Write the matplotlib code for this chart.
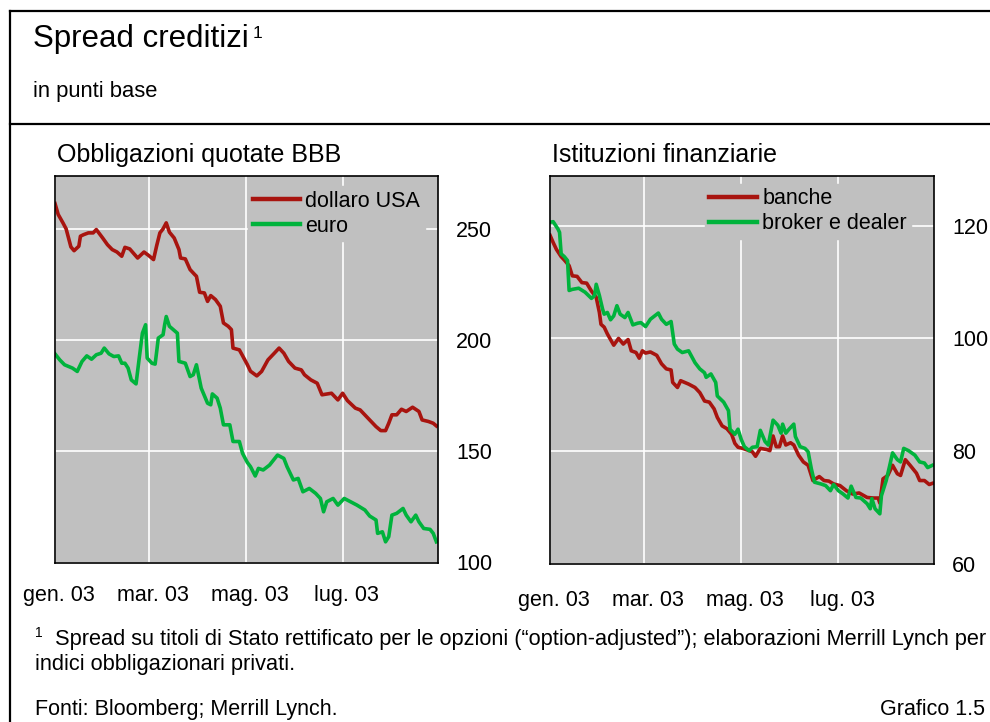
import matplotlib
matplotlib.use('Agg')
import matplotlib.pyplot as plt
from matplotlib.lines import Line2D
from matplotlib.transforms import ScaledTranslation
import numpy as np
import pandas as pd

plt.rcParams['font.family'] = ['Liberation Sans', 'DejaVu Sans']

start = pd.Timestamp('2003-01-01')

# days since 1 Jan 2003 and spread values (basis points)
usd_days = [0, 2, 5, 7, 10, 12, 15, 16, 18, 21, 24, 26, 30, 33, 36, 39, 42, 44, 47, 52,
            56, 59, 62, 64, 66, 68, 70, 72, 75, 78, 79, 82, 85, 88, 89, 91, 94, 96, 98, 101,
            104, 106, 109, 111, 112, 116, 118, 121, 123, 127, 130, 134, 138, 141, 144, 147,
            151, 155, 157, 161, 165, 168, 174, 178, 181, 184, 189, 192, 198, 202, 205, 208,
            210, 212, 215, 218, 221, 225, 229, 231, 235, 238, 240]
usd = [261.4, 256.5, 252.7, 250.0, 241.9, 240.2, 242.2, 246.7, 247.4, 248.2, 248.2, 249.7,
       245.9, 242.9, 240.7, 239.6, 237.7, 241.7, 241.0, 236.9, 239.6, 238.0, 236.2, 242.5,
       248.2, 250.0, 252.7, 248.5, 245.9, 240.7, 236.9, 236.5, 231.7, 229.4, 228.7, 221.5,
       221.2, 217.4, 220.0, 218.2, 215.2, 207.7, 206.2, 204.7, 196.4, 195.6, 193.0, 189.0,
       186.0, 183.9, 185.9, 191.1, 194.1, 196.4, 194.1, 190.4, 187.4, 186.6, 184.4, 182.1,
       180.6, 175.4, 176.1, 173.1, 176.1, 172.8, 169.4, 168.6, 164.1, 161.1, 159.3, 159.3,
       162.6, 166.4, 166.4, 168.9, 167.9, 169.8, 167.9, 164.1, 163.4, 162.6, 161.4]

eur_days = [0, 3, 6, 11, 14, 17, 20, 23, 26, 29, 31, 34, 37, 40, 42, 44, 46, 48, 51, 53,
            55, 57, 58, 61, 63, 64, 65, 68, 69, 70, 72, 77, 78, 82, 85, 87, 89, 92, 96, 98,
            99, 102, 104, 106, 110, 112, 116, 118, 121, 123, 126, 128, 131, 135, 140, 144,
            146, 150, 153, 156, 160, 164, 167, 169, 171, 175, 178, 182, 186, 190, 195, 198,
            202, 203, 206, 208, 210, 212, 215, 219, 221, 224, 227, 229, 232, 236, 238, 240]
eur = [193.8, 191.1, 188.9, 187.4, 185.9, 190.4, 192.9, 191.4, 193.4, 194.1, 196.4, 193.8,
       192.6, 192.9, 189.6, 189.6, 187.4, 182.1, 180.3, 191.9, 203.1, 206.9, 191.9, 189.6,
       189.2, 194.9, 200.9, 202.4, 206.9, 210.6, 206.2, 203.1, 190.4, 189.6, 183.6, 184.4,
       188.9, 178.4, 171.6, 170.9, 175.8, 173.9, 169.4, 161.9, 161.9, 154.4, 154.4, 149.1,
       145.0, 143.1, 138.9, 142.3, 141.6, 143.8, 148.3, 146.8, 143.1, 137.1, 137.8, 131.8,
       133.3, 131.1, 128.8, 122.8, 127.3, 128.8, 125.8, 128.8, 127.3, 125.8, 123.6, 120.9,
       119.1, 113.1, 113.8, 109.3, 111.6, 121.3, 122.1, 124.3, 121.3, 118.3, 121.3, 118.3,
       115.3, 114.9, 113.1, 109.3]

banche_days = [0, 2, 4, 7, 9, 12, 14, 17, 20, 23, 26, 29, 31, 32, 34, 36, 40, 43, 46, 49,
               51, 54, 56, 58, 60, 63, 67, 70, 73, 76, 77, 80, 82, 87, 91, 94, 97, 100, 103,
               105, 108, 111, 114, 116, 118, 121, 124, 127, 129, 132, 136, 138, 140, 142, 144,
               146, 148, 151, 153, 156, 159, 162, 165, 169, 172, 175, 178, 182, 186, 190, 194,
               199, 203, 206, 207, 209, 212, 215, 218, 220, 223, 226, 230, 232, 235, 238, 240]
banche = [118.3, 117.0, 115.8, 114.5, 113.9, 112.9, 111.1, 111.0, 109.9, 109.8, 108.4, 107.3,
          104.6, 102.5, 102.0, 100.8, 98.8, 100.0, 99.0, 99.8, 97.8, 97.5, 96.5, 97.8, 97.4,
          97.6, 97.0, 95.5, 94.6, 94.4, 92.2, 91.3, 92.5, 91.9, 91.3, 90.4, 88.9, 88.7, 87.5,
          86.0, 84.5, 84.0, 83.0, 81.4, 80.7, 80.5, 80.2, 79.9, 79.1, 80.5, 80.3, 80.1, 82.7,
          80.8, 80.8, 82.7, 81.1, 81.5, 81.1, 79.3, 78.1, 77.5, 74.8, 75.5, 74.8, 74.7, 74.2,
          73.9, 73.0, 72.4, 72.6, 71.8, 71.7, 71.7, 70.8, 75.1, 75.7, 77.5, 76.0, 75.7, 78.5,
          77.5, 76.1, 74.8, 74.8, 74.1, 74.3]

broker_days = [0, 2, 5, 6, 7, 9, 11, 12, 14, 18, 22, 26, 28, 29, 31, 33, 34, 36, 38, 40,
               42, 44, 47, 49, 52, 55, 57, 60, 63, 68, 70, 73, 76, 78, 80, 83, 87, 91, 94, 97,
               98, 101, 104, 105, 109, 112, 113, 116, 118, 120, 122, 125, 127, 130, 132, 135,
               137, 140, 143, 145, 146, 148, 150, 153, 154, 157, 160, 162, 164, 166, 170, 173,
               176, 178, 181, 184, 187, 189, 192, 195, 199, 201, 202, 204, 207, 208, 211, 213,
               215, 218, 220, 222, 225, 229, 232, 235, 237, 240]
broker = [120.6, 120.7, 119.4, 118.8, 115.0, 114.5, 113.8, 108.5, 108.7, 108.9, 108.2, 107.1,
          107.6, 109.6, 107.6, 105.2, 104.3, 104.6, 103.3, 104.0, 105.8, 104.3, 103.7, 104.6,
          102.4, 102.7, 102.8, 102.1, 103.4, 104.5, 103.4, 102.5, 103.0, 99.0, 98.1, 97.5,
          97.8, 95.7, 94.6, 93.9, 93.1, 93.7, 92.2, 89.8, 88.7, 87.2, 83.9, 83.0, 83.9, 82.1,
          80.8, 80.1, 80.7, 80.8, 83.7, 81.7, 81.1, 85.5, 84.6, 83.2, 84.8, 83.2, 83.9, 84.8,
          82.6, 80.8, 80.5, 79.9, 76.9, 74.5, 74.2, 73.9, 73.0, 74.1, 73.0, 72.4, 71.7, 73.8,
          71.8, 71.7, 70.7, 69.8, 71.6, 69.8, 68.9, 72.1, 74.8, 77.2, 79.7, 78.5, 78.1, 80.5,
          80.1, 79.3, 78.1, 77.9, 77.1, 77.5]

tick_days = [0, 59, 120, 181]
tick_labels = ['gen. 03', 'mar. 03', 'mag. 03', 'lug. 03']

RED = '#A8140F'
GREEN = '#00B33C'
BG = '#C0C0C0'


def to_dates(days):
    return start + pd.to_timedelta(days, unit='D')


def setup_panel(ax, ylim, yticks, title, xpad):
    ax.set_facecolor(BG)
    ax.set_xlim(start, start + pd.Timedelta(days=241))
    ax.set_ylim(*ylim)
    ax.set_xticks(to_dates(tick_days))
    ax.set_xticklabels(tick_labels)
    ax.set_yticks(yticks)
    ax.yaxis.tick_right()
    ax.tick_params(axis='both', length=0, labelsize=15.5)
    ax.tick_params(axis='y', pad=13)
    ax.tick_params(axis='x', pad=xpad)
    shift = ScaledTranslation(4 / 100, 0, fig.dpi_scale_trans)
    for lab in ax.get_xticklabels():
        lab.set_transform(lab.get_transform() + shift)
    ax.grid(True, color='white', linewidth=1.2)
    ax.set_axisbelow(True)
    for sp in ax.spines.values():
        sp.set_color('black')
        sp.set_linewidth(1.2)
    ax.set_title(title, loc='left', fontsize=18, pad=10, x=0.005)


def add_legend(ax, x, y):
    leg = ax.legend(loc='upper left', bbox_to_anchor=(x, y), fontsize=15.5, frameon=True,
                    fancybox=False, facecolor=BG, edgecolor=BG, framealpha=1,
                    handlelength=2.2, handletextpad=0.25, labelspacing=0.2,
                    borderpad=0.2, borderaxespad=0)
    for h in leg.get_lines():
        h.set_linewidth(3.2)


fig = plt.figure(figsize=(9.9, 7.22), dpi=100)

axL = fig.add_axes([55 / 990, 1 - 562.5 / 722, 383 / 990, 387 / 722])
setup_panel(axL, (100, 274), [100, 150, 200, 250], 'Obbligazioni quotate BBB', 16)
axL.plot(to_dates(usd_days), usd, color=RED, lw=2.6, label='dollaro USA')
axL.plot(to_dates(eur_days), eur, color=GREEN, lw=2.6, label='euro')
add_legend(axL, 0.505, 0.972)

axR = fig.add_axes([550 / 990, 1 - 564 / 722, 384 / 990, 388 / 722])
setup_panel(axR, (60, 128.8), [60, 80, 100, 120], 'Istituzioni finanziarie', 19)
axR.plot(to_dates(banche_days), banche, color=RED, lw=2.6, label='banche')
axR.plot(to_dates(broker_days), broker, color=GREEN, lw=2.6, label='broker e dealer')
add_legend(axR, 0.404, 0.980)

# frame lines
fig.add_artist(Line2D([10 / 990, 1], [1 - 11 / 722, 1 - 11 / 722], color='black', lw=1.6))
fig.add_artist(Line2D([10 / 990, 10 / 990], [0, 1 - 11 / 722], color='black', lw=1.6))
fig.add_artist(Line2D([10 / 990, 1], [1 - 124 / 722, 1 - 124 / 722], color='black', lw=1.6))

fig.text(33 / 990, 1 - 47 / 722, 'Spread creditizi', fontsize=22.5, va='baseline')
fig.text(253 / 990, 1 - 38 / 722, '1', fontsize=12.5, va='baseline')
fig.text(33 / 990, 1 - 97 / 722, 'in punti base', fontsize=15.8, va='baseline')

fig.text(35 / 990, 1 - 637 / 722, '1', fontsize=10, va='baseline')
fig.text(55 / 990, 1 - 645 / 722,
         'Spread su titoli di Stato rettificato per le opzioni (\u201coption-adjusted\u201d); '
         'elaborazioni Merrill Lynch per', fontsize=15.65, va='baseline')
fig.text(35 / 990, 1 - 670 / 722, 'indici obbligazionari privati.', fontsize=15.65, va='baseline')
fig.text(35 / 990, 1 - 715 / 722, 'Fonti: Bloomberg; Merrill Lynch.', fontsize=15.5, va='baseline')
fig.text(985 / 990, 1 - 715 / 722, 'Grafico 1.5', fontsize=15.5, va='baseline', ha='right')

fig.savefig('out.png', dpi=100)
